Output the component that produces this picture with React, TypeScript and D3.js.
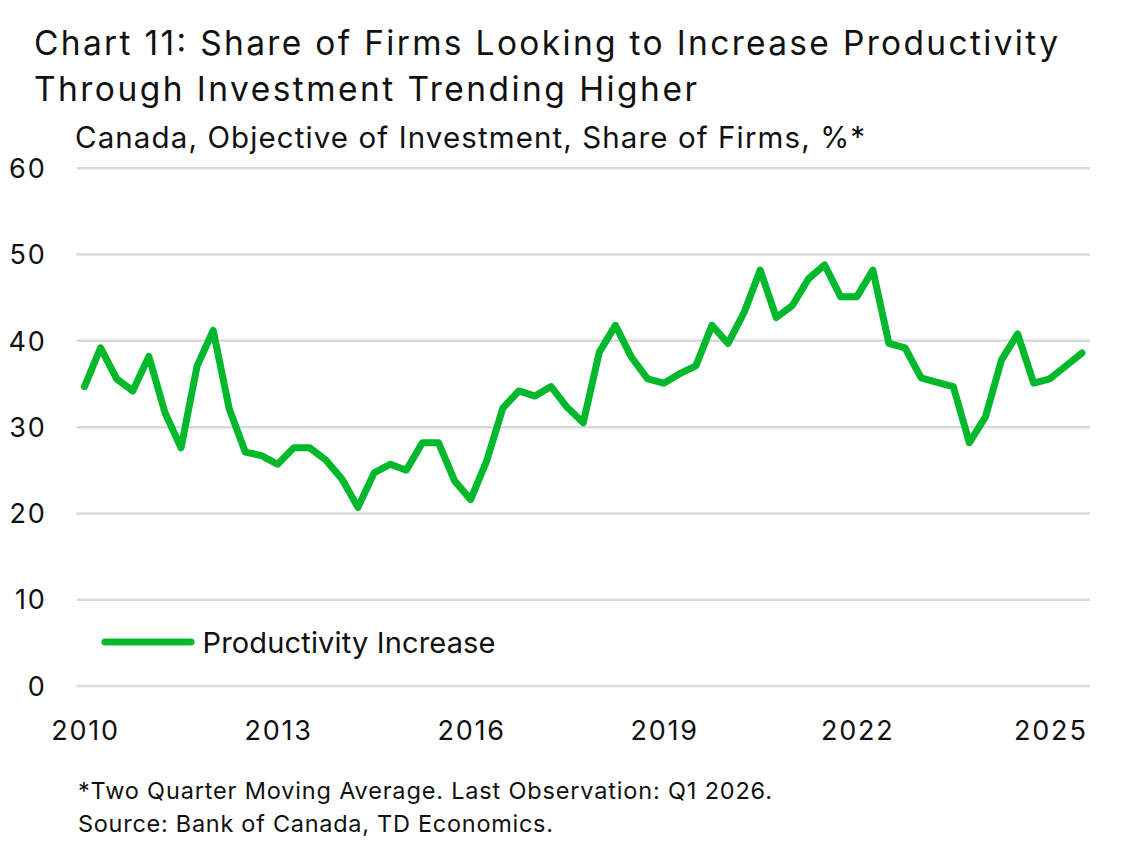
import { useEffect, useRef } from 'react'
import * as d3 from 'd3'

// quarterly, starting 2010 Q1
const startYear = 2010
const productivity = [
  34.7, 39.2, 35.6, 34.2, 38.2, 31.7, 27.6, 37.1, 41.2, 32.1, 27.1, 26.7,
  25.7, 27.6, 27.6, 26.2, 24.0, 20.7, 24.7, 25.7, 25.0, 28.2, 28.2, 23.8,
  21.6, 26.1, 32.2, 34.2, 33.6, 34.7, 32.3, 30.5, 38.7, 41.8, 38.1, 35.6,
  35.1, 36.2, 37.1, 41.8, 39.7, 43.3, 48.2, 42.7, 44.1, 47.2, 48.8, 45.1,
  45.1, 48.2, 39.7, 39.2, 35.7, 35.2, 34.7, 28.2, 31.2, 37.8, 40.8, 35.1,
  35.6, 37.1, 38.6,
]
const yearTicks = [2010, 2013, 2016, 2019, 2022, 2025]
const valueTicks = [0, 10, 20, 30, 40, 50, 60]

const titleLines = [
  'Chart 11: Share of Firms Looking to Increase Productivity',
  'Through Investment Trending Higher',
]
const subtitle = 'Canada, Objective of Investment, Share of Firms, %*'
const seriesName = 'Productivity Increase'
const notes = [
  '*Two Quarter Moving Average. Last Observation: Q1 2026.',
  'Source: Bank of Canada, TD Economics.',
]

const width = 1145
const height = 850
const FONT = 'Inter, "Open Sans", sans-serif'
const GREEN = '#00b82b'

function App() {
  const ref = useRef<SVGSVGElement>(null)

  useEffect(() => {
    const svg = d3.select(ref.current)
    svg.selectAll('*').remove()

    const data = productivity.map((v, i) => ({ t: startYear + i / 4, v }))

    const xScale = d3.scaleLinear().domain([2010, 2025.5]).range([84.5, 1082])
    const yScale = d3.scaleLinear().domain([0, 60]).range([686, 168.3])

    // the original font runs wider than Inter, so stretch spacing to fit
    const titleWidths = [1024, 663]
    svg
      .selectAll('text.title')
      .data(titleLines)
      .join('text')
      .attr('class', 'title')
      .attr('x', 34)
      .attr('y', (_, i) => 55 + i * 45.7)
      .attr('font-size', 33.5)
      .attr('textLength', (_, i) => titleWidths[i])
      .attr('lengthAdjust', 'spacing')
      .text((d) => d)
    svg
      .append('text')
      .attr('x', 75)
      .attr('y', 147.5)
      .attr('font-size', 29.5)
      .attr('textLength', 790)
      .attr('lengthAdjust', 'spacing')
      .text(subtitle)

    // grid
    svg
      .append('g')
      .selectAll('line')
      .data(valueTicks)
      .join('line')
      .attr('x1', 76.7)
      .attr('x2', 1090)
      .attr('y1', (d) => yScale(d))
      .attr('y2', (d) => yScale(d))
      .attr('stroke', '#d9d9d9')
      .attr('stroke-width', 2.5)

    svg
      .append('g')
      .selectAll('text')
      .data(valueTicks)
      .join('text')
      .attr('x', 46.5)
      .attr('y', (d) => yScale(d))
      .attr('dy', '0.36em')
      .attr('text-anchor', 'end')
      .attr('font-size', 27)
      .attr('letter-spacing', 1.8)
      .text((d) => d)

    svg
      .append('g')
      .selectAll('text')
      .data(yearTicks)
      .join('text')
      .attr('x', (d) => xScale(d) + 1)
      .attr('y', 740)
      .attr('text-anchor', 'middle')
      .attr('font-size', 27)
      .attr('letter-spacing', 1.8)
      .text((d) => d)

    const line = d3
      .line<{ t: number; v: number }>()
      .x((d) => xScale(d.t))
      .y((d) => yScale(d.v))

    svg
      .append('path')
      .datum(data)
      .attr('fill', 'none')
      .attr('stroke', GREEN)
      .attr('stroke-width', 7)
      .attr('stroke-linejoin', 'round')
      .attr('stroke-linecap', 'round')
      .attr('d', line)

    // legend
    svg
      .append('line')
      .attr('x1', 105)
      .attr('x2', 191)
      .attr('y1', 642)
      .attr('y2', 642)
      .attr('stroke', GREEN)
      .attr('stroke-width', 7)
      .attr('stroke-linecap', 'round')
    svg
      .append('text')
      .attr('x', 202.5)
      .attr('y', 653)
      .attr('font-size', 29)
      .attr('textLength', 293)
      .attr('lengthAdjust', 'spacing')
      .text(seriesName)

    const noteWidths = [694, 475]
    svg
      .selectAll('text.note')
      .data(notes)
      .join('text')
      .attr('class', 'note')
      .attr('x', 78)
      .attr('y', (_, i) => 799 + i * 32.5)
      .attr('font-size', 23.5)
      .attr('textLength', (_, i) => noteWidths[i])
      .attr('lengthAdjust', 'spacing')
      .text((d) => d)
  }, [])

  return (
    <svg
      ref={ref}
      width={width}
      height={height}
      fontFamily={FONT}
      fill="#111"
      style={{ position: 'absolute', left: 0, top: 0, background: '#fff' }}
    />
  )
}

export default App
